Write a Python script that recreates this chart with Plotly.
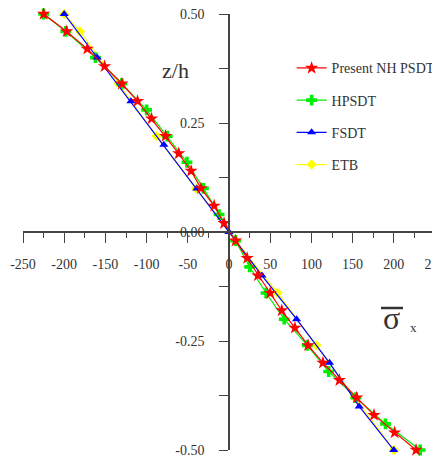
import plotly.graph_objects as go

# ---- data ----
z_nh = [0.5, 0.46, 0.42, 0.38, 0.34, 0.30, 0.26, 0.22, 0.18, 0.14, 0.10, 0.06, 0.02,
        -0.02, -0.06, -0.10, -0.14, -0.18, -0.22, -0.26, -0.30, -0.34, -0.38, -0.42, -0.46, -0.5]
s_nh = [-225, -197, -172, -151, -130, -111, -94, -77, -61, -46, -34, -18, -6,
        8, 22, 35, 50, 64, 80, 96, 114, 134, 155, 176, 201, 227]

z_hp = [0.5, 0.46, 0.40, 0.34, 0.28, 0.22, 0.16, 0.10, 0.04,
        -0.02, -0.08, -0.14, -0.20, -0.26, -0.32, -0.38, -0.44, -0.5]
s_hp = [-225, -198, -162, -130, -100, -75, -51, -31, -12,
        8, 25, 45, 67, 95, 121, 154, 190, 232]

z_fs = [0.5, 0.4, 0.3, 0.2, 0.1, 0.0, -0.1, -0.2, -0.3, -0.4, -0.5]
s_fs = [-200, -160, -119, -79, -39, 0, 40, 82, 122, 158, 200]

z_etb = [0.5, 0.46, 0.34, 0.22, 0.10, -0.02, -0.14, -0.26, -0.38, -0.5]
s_etb = [-200, -181, -134, -88, -40, 8, 59, 106, 153, 200]

x_ticks = [-250, -200, -150, -100, -50, 0, 50, 100, 150, 200, 250]
x_labels = ["-250", "-200", "-150", "-100", "-50", "0", "50", "100", "150", "200", "250"]
y_ticks = [-0.5, -0.25, 0.0, 0.25, 0.5]
y_labels = ["-0.50", "-0.25", "0.00", "0.25", "0.50"]

series = [
    ("Present NH PSDT", s_nh, z_nh, "#ff0000", "star", 10),
    ("HPSDT", s_hp, z_hp, "#00ee00", "cross", 9),
    ("FSDT", s_fs, z_fs, "#0000ff", "triangle-up", 8),
    ("ETB", s_etb, z_etb, "#ffff00", "diamond", 8),
]

fig = go.Figure()
order = [3, 1, 2, 0]
for i in order:
    name, xs, ys, col, sym, sz = series[i]
    fig.add_trace(go.Scatter(
        x=xs, y=ys, name=name, mode="lines+markers",
        line=dict(color=col, width=1.2),
        marker=dict(color=col, symbol=sym, size=sz, line=dict(width=0)),
        cliponaxis=False, legendgroup=name, legendrank=i + 1,
    ))

font = "Liberation Serif, Times New Roman, serif"
axcol = "#444444"
# the page body adds an 8px offset, so the figure is 432x453 and margins account for it
fig.update_layout(
    width=432, height=453,
    margin=dict(l=15, r=5, t=6, b=11, autoexpand=False),
    paper_bgcolor="white", plot_bgcolor="white",
    font=dict(family=font, size=14, color="#333333"),
    showlegend=True,
    legend=dict(x=0.652, y=0.912, xanchor="left", yanchor="top",
                bgcolor="rgba(0,0,0,0)", tracegroupgap=11,
                font=dict(family=font, size=14, color="#333333")),
    xaxis=dict(range=[-250, 250], anchor="free", position=0.5, automargin=False,
               showgrid=False, zeroline=False, showline=True,
               linecolor=axcol, linewidth=1.5, ticklabeloverflow="allow",
               tickmode="array", tickvals=x_ticks, ticktext=x_labels,
               ticks="outside", ticklen=10, tickcolor=axcol, tickwidth=1.2,
               ticklabelstandoff=9,
               minor=dict(dtick=25, ticks="outside", ticklen=5, tickcolor=axcol, tickwidth=1.2),
               tickfont=dict(family=font, size=14, color="#333333")),
    yaxis=dict(range=[-0.5, 0.5], anchor="free", position=0.5, automargin=False,
               showgrid=False, zeroline=False, showline=True,
               linecolor=axcol, linewidth=1.5, ticklabeloverflow="allow",
               tickmode="array", tickvals=y_ticks, ticktext=y_labels,
               ticks="outside", ticklen=9, tickcolor=axcol, tickwidth=1.2,
               ticklabelstandoff=12,
               minor=dict(tickvals=[-0.375, -0.125, 0.125, 0.375], ticks="outside",
                          ticklen=9, tickcolor=axcol, tickwidth=1.2),
               tickfont=dict(family=font, size=14, color="#333333")),
)

def px_x(p):
    return (p - 23) / 412.0

def px_y(p):
    return (450 - p) / 436.0

def label(text, x, y, size):
    fig.add_annotation(text=text, x=px_x(x), y=px_y(y), xref="paper", yref="paper",
                       xanchor="center", yanchor="middle", showarrow=False,
                       font=dict(family=font, size=size, color="#333333"))

label("z/h", 175, 70, 22)
label("σ", 391, 318, 32)
label("x", 413, 327, 13)
fig.add_shape(type="line", xref="paper", yref="paper",
              x0=px_x(381), x1=px_x(403), y0=px_y(308), y1=px_y(308),
              line=dict(color="#333333", width=2.5))

fig.write_html("out.html")
